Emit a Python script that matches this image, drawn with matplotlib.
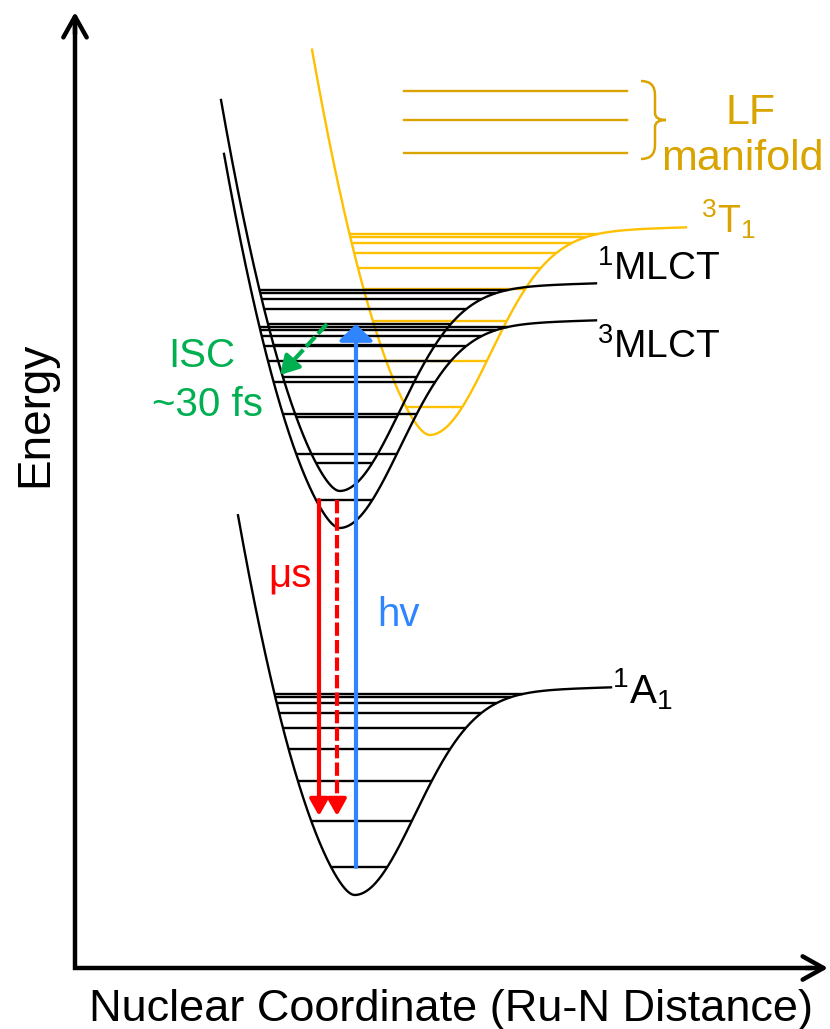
import numpy as np
import matplotlib.pyplot as plt
from matplotlib.path import Path
from matplotlib.patches import PathPatch

plt.rcParams['font.family'] = ['Liberation Sans', 'DejaVu Sans']
plt.rcParams['mathtext.fontset'] = 'custom'
plt.rcParams['mathtext.rm'] = 'Liberation Sans'
plt.rcParams['mathtext.it'] = 'Liberation Sans:italic'

BLACK = 'black'
YELLOW = '#FFC000'
GOLD = '#D9A300'
GREEN = '#00B050'
RED = '#FF0000'
BLUE = '#2F84FF'

# potential wells: minimum (coordinate, energy) and how far the repulsive wall reaches
states = ['1A1', '3MLCT', '1MLCT', '3T1']
well_x = [355, 340, 340, 430]
well_E = [134, 501, 538, 594]
wall_reach = [117, 116, 119, 118]
well_color = [BLACK, BLACK, BLACK, YELLOW]

# vibrational ladder above each minimum
vib_levels = [28, 74, 114, 146, 167, 182, 192, 198, 201]

# ligand-field manifold levels
lf_levels = [938, 909, 876]
lf_x = [404, 627]


def well_shape(dx):
    left = 1.05 * (np.sqrt(dx ** 2 + 100) - 10) + 0.0195 * dx ** 2
    right = 200 * (1 - np.exp(-dx ** 2 / 7200)) + 0.03 * dx
    return np.where(dx < 0, left, right)


def level_span(e):
    dl = np.linspace(-200, 0, 2000)
    dr = np.linspace(0, 400, 2000)
    xl = np.interp(e, well_shape(dl)[::-1], dl[::-1])
    xr = np.interp(e, well_shape(dr), dr)
    return xl, xr


def arrow(ax, tail, tip, color, dashed=False, lw=3.0, hl=0.5, hw=0.35, shrink=0, z=6):
    tail = np.array(tail, float)
    tip = np.array(tip, float)
    d = (tip - tail) / np.linalg.norm(tip - tail)
    tip = tip - d * shrink
    base = tip - d * 10
    if dashed:
        ax.plot([tail[0], base[0]], [tail[1], base[1]], color=color, lw=lw,
                linestyle=(0, (3.2, 1.0)), solid_capstyle='butt', zorder=z)
        start = base
    else:
        start = tail
    ax.annotate('', xy=tip, xytext=start,
                arrowprops=dict(arrowstyle=f'-|>,head_length={hl},head_width={hw}',
                                color=color, lw=lw, shrinkA=0, shrinkB=0,
                                mutation_scale=20),
                zorder=z)


fig = plt.figure(figsize=(8.3, 10.29), dpi=100)
ax = fig.add_axes([0, 0, 1, 1])
ax.set_xlim(0, 830)
ax.set_ylim(0, 1029)
ax.axis('off')

# axes with open arrow heads
ax.plot([75, 75, 810], [1005, 61, 61], color=BLACK, lw=3.2, solid_joinstyle='miter')
head = '->,head_length=0.75,head_width=0.42'
ax.annotate('', xy=(75, 1017), xytext=(75, 995),
            arrowprops=dict(arrowstyle=head, color=BLACK, lw=3.2,
                            shrinkA=0, shrinkB=0, mutation_scale=20))
ax.annotate('', xy=(828, 61), xytext=(806, 61),
            arrowprops=dict(arrowstyle=head, color=BLACK, lw=3.2,
                            shrinkA=0, shrinkB=0, mutation_scale=20))

# potential curves and their vibrational levels
for x0, E0, reach, col in zip(well_x, well_E, wall_reach, well_color):
    z = 2 if col == YELLOW else 3
    dx = np.linspace(-reach, 256, 800)
    ax.plot(x0 + dx, E0 + well_shape(dx), color=col, lw=1.7, zorder=z)
    for e in vib_levels:
        a, b = level_span(e)
        ax.plot([x0 + a, x0 + b], [E0 + e, E0 + e], color=col, lw=1.7,
                solid_capstyle='butt', zorder=z)

# LF manifold with brace
for e in lf_levels:
    ax.plot(lf_x, [e, e], color=GOLD, lw=1.7)
brace = Path([(641, 948), (655, 948), (655, 934), (655, 916), (655, 909), (666, 909),
              (655, 909), (655, 902), (655, 884), (655, 870), (641, 870)],
             [Path.MOVETO, Path.CURVE3, Path.CURVE3, Path.LINETO, Path.CURVE3, Path.CURVE3,
              Path.CURVE3, Path.CURVE3, Path.LINETO, Path.CURVE3, Path.CURVE3])
ax.add_patch(PathPatch(brace, fill=False, edgecolor=GOLD, lw=1.8))

# transitions
gs, t3, s1 = 0, 1, 2
hv_x, em_x, em2_x = 356, 319, 337
arrow(ax, (hv_x, well_E[gs] + vib_levels[0]), (hv_x, well_E[s1] + vib_levels[4]),
      BLUE, hl=0.5, hw=0.52)
arrow(ax, (em_x, well_E[t3] + vib_levels[0]), (em_x, well_E[gs] + vib_levels[1]),
      RED, hl=0.5, hw=0.28, shrink=5)
arrow(ax, (em2_x, well_E[t3] + vib_levels[0]), (em2_x, well_E[gs] + vib_levels[1]),
      RED, dashed=True, hl=0.5, hw=0.28, shrink=5)
arrow(ax, (327, well_E[s1] + vib_levels[4]), (280, 654), GREEN, dashed=True,
      hl=0.55, hw=0.32)

# labels
ax.text(451, 7.5, 'Nuclear Coordinate (Ru-N Distance)', fontsize=32.5,
        ha='center', va='baseline')
ax.text(35, 615, 'Energy', rotation=90, fontsize=33, ha='center', va='center')
ax.text(597, 749, r'$^{1}$MLCT', fontsize=28, va='baseline')
ax.text(597, 671, r'$^{3}$MLCT', fontsize=28, va='baseline')
ax.text(612, 326, r'$^{1}$A$_{1}$', fontsize=29, va='baseline')
ax.text(701, 796, r'$^{3}$T$_{1}$', fontsize=27, va='baseline', color=GOLD)
ax.text(751, 905, 'LF', fontsize=31, ha='center', va='baseline', color=GOLD)
ax.text(742, 859, 'manifold', fontsize=31, ha='center', va='baseline', color=GOLD)
ax.text(202, 662, 'ISC', fontsize=29, ha='center', va='baseline', color=GREEN)
ax.text(207, 613, '~30 fs', fontsize=29, ha='center', va='baseline', color=GREEN)
ax.text(290, 443, 'μs', fontsize=29, ha='center', va='baseline', color=RED)
ax.text(398, 403, 'hv', fontsize=29, ha='center', va='baseline', color=BLUE)

fig.savefig('out.png', dpi=100)
